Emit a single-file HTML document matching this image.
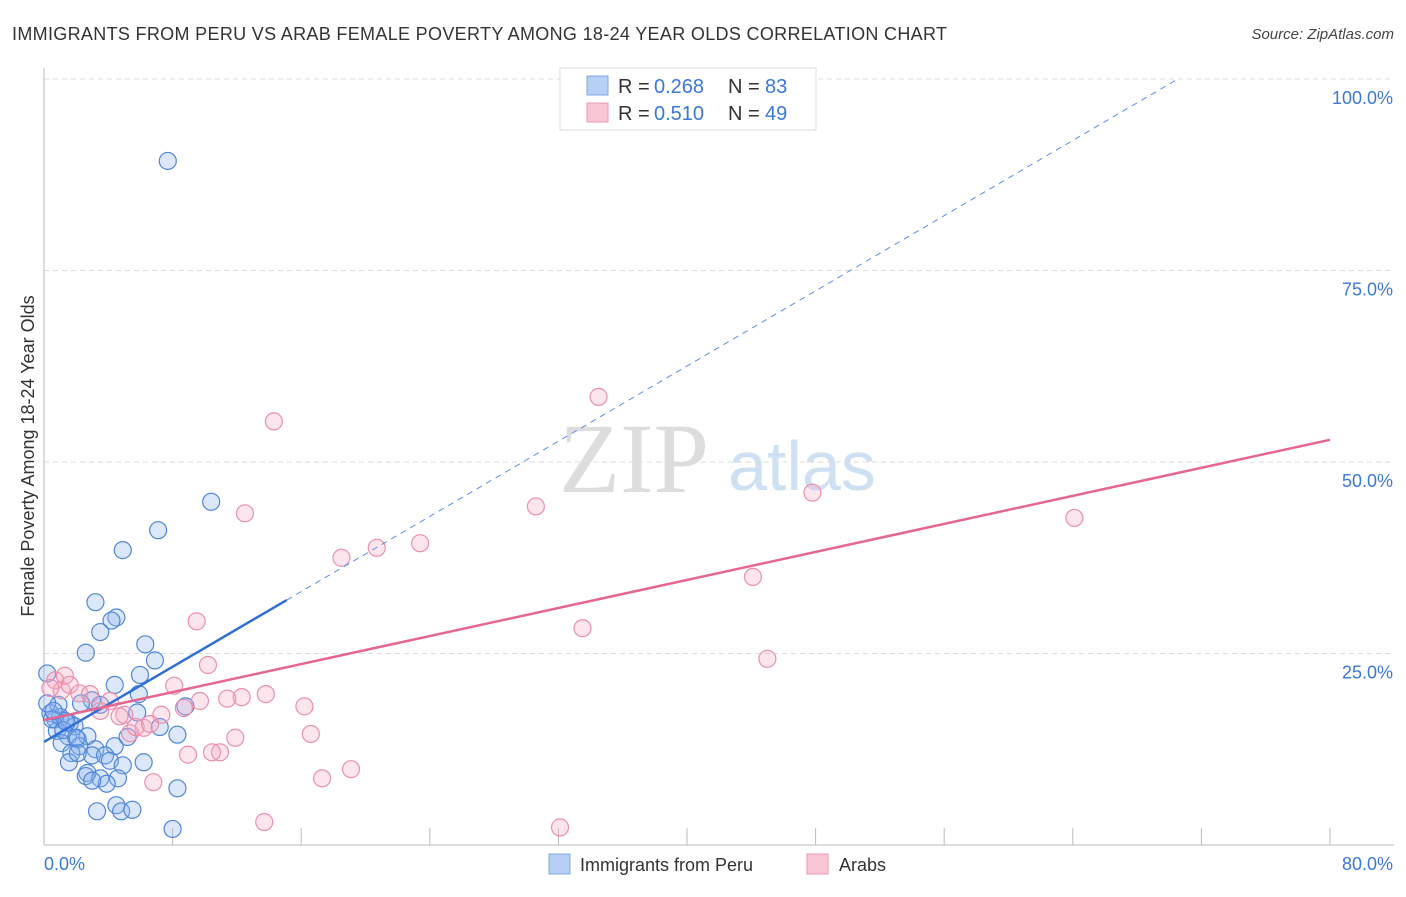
<!DOCTYPE html>
<html><head><meta charset="utf-8"><style>
body{margin:0;background:#fff;font-family:"Liberation Sans",sans-serif;}
</style></head><body>
<svg id="chart" width="1406" height="892" xmlns="http://www.w3.org/2000/svg" font-family="Liberation Sans, sans-serif">
<text x="12" y="40" font-size="18" fill="#333" textLength="935">IMMIGRANTS FROM PERU VS ARAB FEMALE POVERTY AMONG 18-24 YEAR OLDS CORRELATION CHART</text>
<text x="1394" y="39" font-size="15" fill="#444" font-style="italic" text-anchor="end">Source: ZipAtlas.com</text>
<text x="634" y="492" font-size="100" fill="#ddd" style="font-family:'Liberation Serif',serif" text-anchor="middle">ZIP</text>
<text x="802" y="490" font-size="70" fill="#cfe0f3" text-anchor="middle">atlas</text>
<g id="grid"></g><g id="axes"></g><g id="pts"></g><g id="lines"></g>
<text transform="translate(34,456) rotate(-90)" font-size="18" fill="#333" text-anchor="middle">Female Poverty Among 18-24 Year Olds</text>
<text x="44" y="870" font-size="18" fill="#3b78d8">0.0%</text>
<text x="1393" y="870" font-size="18" fill="#3b78d8" text-anchor="end">80.0%</text>
<g>
<rect x="560" y="68" width="256" height="62" fill="#fff" stroke="#ddd"/>
<rect x="587" y="76" width="21" height="19" fill="#b6d0f4" stroke="#7fa9e6"/>
<rect x="587" y="103" width="21" height="19" fill="#f8c6d5" stroke="#ee9ab3"/>
<text x="618" y="93" font-size="20" fill="#333">R =</text><text x="654" y="93" font-size="20" fill="#3b78d8">0.268</text>
<text x="728" y="93" font-size="20" fill="#333">N =</text><text x="765" y="93" font-size="20" fill="#3b78d8">83</text>
<text x="618" y="120" font-size="20" fill="#333">R =</text><text x="654" y="120" font-size="20" fill="#3b78d8">0.510</text>
<text x="728" y="120" font-size="20" fill="#333">N =</text><text x="765" y="120" font-size="20" fill="#3b78d8">49</text>
</g>
<g>
<rect x="549" y="854" width="21" height="20" fill="#b6d0f4" stroke="#7fa9e6"/>
<text x="580" y="871" font-size="18" fill="#333">Immigrants from Peru</text>
<rect x="807" y="854" width="21" height="20" fill="#f8c6d5" stroke="#ee9ab3"/>
<text x="839" y="871" font-size="18" fill="#333">Arabs</text>
</g>
</svg>
<script>
const yTicks=[25,50,75,100];
const yTickLabels=["25.0%","50.0%","75.0%","100.0%"];
const xTicks=[8,16,24,32,40,48,56,64,72,80];
const peruX=[7.7,10.4,7.1,4.9,3.2,4.5,4.2,3.5,6.3,2.6,6.9,5.97,4.4,5.9,0.2,2.98,3.5,5.8,2.3,0.4,0.7,1.0,1.3,1.6,1.9,0.8,1.5,2.1,2.7,2.2,1.1,1.7,3.2,4.4,2.99,3.8,5.2,7.2,8.3,8.8,1.55,2.1,4.1,4.9,2.7,2.6,3.5,4.6,3.9,3.0,3.3,4.5,4.8,5.5,8.0,8.3,6.2,0.9,0.5,0.2,1.2,2.0,1.4,0.6];
const peruY=[89.3,44.8,41.1,38.5,31.7,29.7,29.3,27.8,26.2,25.1,24.1,22.2,20.9,19.7,22.4,18.9,18.3,17.3,18.5,17.2,16.4,16.7,16.2,15.9,15.5,14.9,14.2,13.8,14.2,12.9,13.3,12.0,12.5,12.9,11.7,11.7,14.1,15.4,14.4,18.1,10.8,12.0,11.0,10.4,9.4,9.0,8.7,8.7,8.0,8.4,4.4,5.2,4.4,4.6,2.1,7.4,10.8,18.3,16.4,18.5,15.0,14.0,16.0,17.5];
const arabX=[34.5,14.3,12.5,30.6,47.8,64.1,23.4,20.7,18.5,44.1,33.5,45.0,9.5,10.2,8.1,12.3,13.8,11.4,9.7,16.2,8.7,7.3,5.0,6.2,5.35,16.6,11.9,8.96,10.95,10.45,17.3,19.1,6.8,13.7,32.1,0.7,1.1,1.3,0.4,1.6,2.2,2.86,3.5,4.1,4.7,5.7,6.6];
const arabY=[58.5,55.3,43.3,44.2,46.0,42.7,39.4,38.8,37.5,35.0,28.3,24.3,29.2,23.5,20.8,19.3,19.7,19.1,18.8,18.1,17.9,17.0,17.0,15.3,14.6,14.5,14.0,11.8,12.1,12.1,8.7,9.9,8.2,3.0,2.3,21.5,20.2,22.1,20.5,20.9,19.8,19.7,17.5,18.8,16.8,15.4,15.8];
const peruTrend=[13.45,1.227], arabTrend=[16.3,0.4575];
const X=v=>44+v*1286/80, Y=v=>845-v*7.66;
const NS="http://www.w3.org/2000/svg";
function mk(p,t,a){const e=document.createElementNS(NS,t);for(const k in a)e.setAttribute(k,a[k]);document.getElementById(p).appendChild(e);return e;}
yTicks.forEach((t,i)=>{
 const l=mk('grid','line',{x1:44,x2:1394,y1:Y(t),y2:Y(t),stroke:'#ddd','stroke-dasharray':'5,4'});
 
 
 const tx=mk('grid','text',{x:1393,y:Y(t)+25,'font-size':18,fill:'#3b78d8','text-anchor':'end'});
 tx.textContent=yTickLabels[i];
 
 
});
const ax=mk('axes','line',{x1:44,x2:44,y1:68,y2:845,stroke:'#bbb'});


const bx=mk('axes','line',{x1:44,x2:1394,y1:845,y2:845,stroke:'#bbb'});


xTicks.forEach(t=>{
 const l=mk('axes','line',{x1:X(t),x2:X(t),y1:828,y2:845,stroke:'#bbb'});
 
 
});
peruX.forEach((x,i)=>{
 const c=mk('pts','circle',{cx:X(x),cy:Y(peruY[i]),r:8.5,fill:'rgba(140,180,240,0.3)',stroke:'#4f86d9','stroke-width':1.2});
 
 
});
arabX.forEach((x,i)=>{
 const c=mk('pts','circle',{cx:X(x),cy:Y(arabY[i]),r:8.5,fill:'rgba(245,170,195,0.3)',stroke:'#ec8fab','stroke-width':1.2});
 
 
});
const pe=15.1, pd=(100-peruTrend[0])/peruTrend[1];
const l1=mk('lines','line',{x1:X(0),y1:Y(peruTrend[0]),x2:X(pe),y2:Y(peruTrend[0]+peruTrend[1]*pe),stroke:'#2f6fd6','stroke-width':2.5});


const l2=mk('lines','line',{x1:X(pe),y1:Y(peruTrend[0]+peruTrend[1]*pe),x2:X(pd),y2:Y(100),stroke:'#5b8fe0','stroke-width':1,'stroke-dasharray':'6,5'});


const l3=mk('lines','line',{x1:X(0),y1:Y(arabTrend[0]),x2:X(80),y2:Y(arabTrend[0]+arabTrend[1]*80),stroke:'#e5678f','stroke-width':2.5});


</script>
</body></html>
